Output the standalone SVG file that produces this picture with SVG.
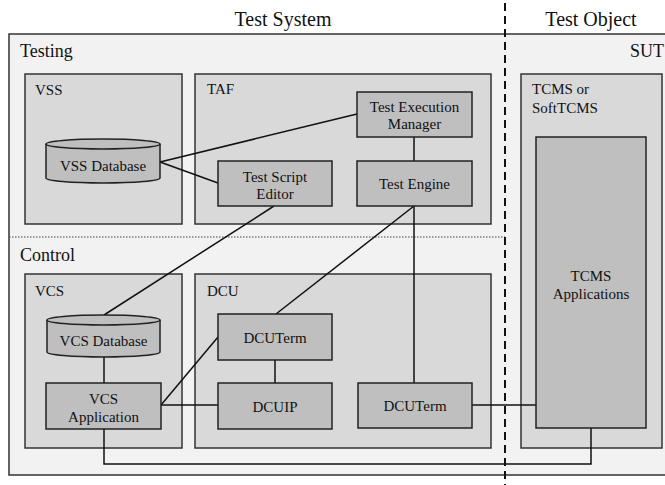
<svg xmlns="http://www.w3.org/2000/svg" width="665" height="485" viewBox="0 0 665 485">
<style>
text{font-family:"Liberation Serif","Times New Roman",serif;fill:#111}
.title{font-size:20px}
.area{font-size:18px}
.grp{font-size:15px}
.lbl{font-size:15px;text-anchor:middle}
.gbox{fill:#d9d9d9;stroke:#333;stroke-width:1.5}
.node{fill:#bfbfbf;stroke:#222;stroke-width:1.5}
.conn line,.conn polyline{stroke:#111;stroke-width:1.5;fill:none}
</style>
<rect width="665" height="485" fill="#fff"/>
<text class="title" x="283" y="26" text-anchor="middle">Test System</text>
<text class="title" x="591" y="26" text-anchor="middle">Test Object</text>
<g id="outer">
<rect x="9" y="34" width="670" height="441" fill="#f2f2f2" stroke="#333" stroke-width="1.5"/>
<text class="area" x="20" y="57">Testing</text>
<text class="area" x="20" y="261">Control</text>
<text class="area" x="664" y="57" text-anchor="end">SUT</text>
</g>
<line x1="9" y1="237" x2="505" y2="237" stroke="#444" stroke-width="1" stroke-dasharray="1.5 1.5"/>
<g id="vss"><rect class="gbox" x="25" y="74" width="157" height="150"/><text class="grp" x="35" y="95">VSS</text></g>
<g id="taf"><rect class="gbox" x="195" y="74" width="296" height="150"/><text class="grp" x="207" y="94">TAF</text></g>
<g id="vcs"><rect class="gbox" x="25" y="274" width="157" height="174"/><text class="grp" x="35" y="296">VCS</text></g>
<g id="dcu"><rect class="gbox" x="195" y="274" width="296" height="174"/><text class="grp" x="207" y="296">DCU</text></g>
<g id="sut"><rect class="gbox" x="521" y="74" width="141" height="374"/><text class="grp" x="532" y="94">TCMS or</text><text class="grp" x="532" y="113">SoftTCMS</text></g>
<g class="conn" id="connectors">
<line x1="160" y1="162" x2="357" y2="114"/>
<line x1="160" y1="162" x2="218" y2="183"/>
<line x1="414" y1="137" x2="414" y2="161"/>
<line x1="274" y1="206" x2="104" y2="315"/>
<line x1="414" y1="206" x2="276" y2="314"/>
<line x1="414" y1="206" x2="414" y2="383"/>
<line x1="104" y1="357" x2="104" y2="383"/>
<line x1="275" y1="360" x2="275" y2="383"/>
<line x1="161" y1="405" x2="218" y2="337"/>
<line x1="161" y1="405" x2="218" y2="405"/>
<line x1="472" y1="405" x2="536" y2="405"/>
<polyline points="104,429 104,464 591,464 591,428"/>
</g>
<g id="tem"><rect class="node" x="357" y="92" width="115" height="45"/><text class="lbl" x="414.5" y="112">Test Execution</text><text class="lbl" x="414.5" y="129">Manager</text></g>
<g id="vssdb"><path class="node" d="M46,144 L46,178 A57,5 0 0 0 160,178 L160,144"/><ellipse class="node" cx="103" cy="144" rx="57" ry="5"/><text class="lbl" x="103" y="171">VSS Database</text></g>
<g id="tse"><rect class="node" x="218" y="161" width="114" height="45"/><text class="lbl" x="275" y="182">Test Script</text><text class="lbl" x="275" y="199">Editor</text></g>
<g id="te"><rect class="node" x="357" y="161" width="115" height="45"/><text class="lbl" x="414.5" y="189">Test Engine</text></g>
<g id="vcsdb"><path class="node" d="M47,320 L47,352 A56.5,5 0 0 0 160,352 L160,320"/><ellipse class="node" cx="103.5" cy="320" rx="56.5" ry="5"/><text class="lbl" x="103.5" y="346">VCS Database</text></g>
<g id="vcsapp"><rect class="node" x="46" y="383" width="115" height="46"/><text class="lbl" x="103.5" y="404">VCS</text><text class="lbl" x="103.5" y="422">Application</text></g>
<g id="dcuterm1"><rect class="node" x="218" y="314" width="114" height="46"/><text class="lbl" x="275" y="343">DCUTerm</text></g>
<g id="dcuip"><rect class="node" x="218" y="383" width="114" height="46"/><text class="lbl" x="275" y="412">DCUIP</text></g>
<g id="dcuterm2"><rect class="node" x="358" y="383" width="114" height="45"/><text class="lbl" x="415" y="411">DCUTerm</text></g>
<g id="tcmsapp"><rect class="node" x="536" y="137" width="110" height="291"/><text class="lbl" x="591" y="281">TCMS</text><text class="lbl" x="591" y="299">Applications</text></g>
<line x1="505" y1="3" x2="505" y2="485" stroke="#111" stroke-width="2" stroke-dasharray="8 5"/>
</svg>
